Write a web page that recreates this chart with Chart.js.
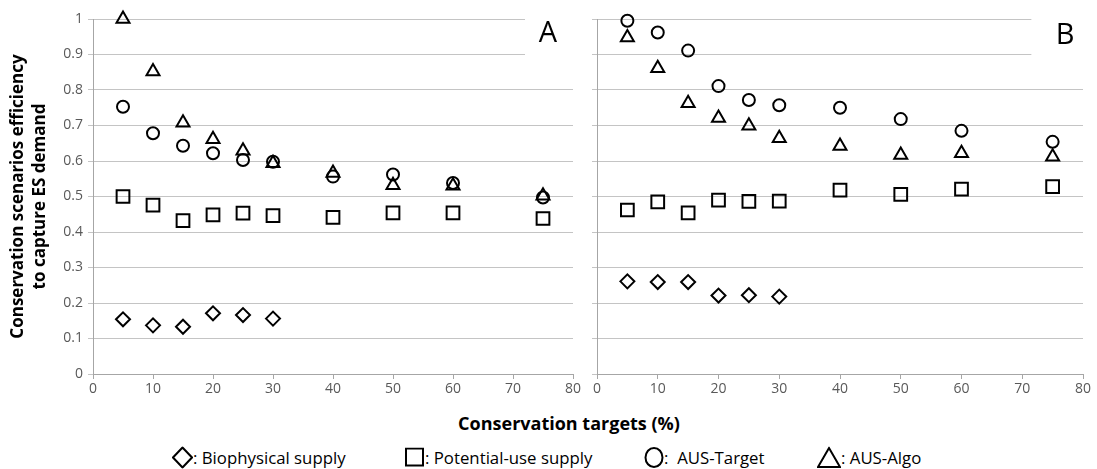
<!DOCTYPE html>
<html lang="en">
<head>
  <meta charset="UTF-8">
  <title>Conservation scenarios efficiency</title>
  <script src="https://cdn.jsdelivr.net/npm/chart.js"></script>
  <style>
    body {
      margin: 0;
      background: #fff;
      font-family: "Open Sans", Lato, sans-serif;
    }
    .wrap {
      position: relative;
      width: 1097px;
      height: 469px;
      overflow: hidden;
    }
    canvas {
      position: absolute;
      top: 0;
    }
    #chartA { left: 0; }
    #chartB { left: 560px; }
    .xtitle {
      position: absolute;
      left: 569px;
      top: 423px;
      transform: translate(-50%, -50%);
      font-weight: bold;
      font-size: 18px;
      white-space: nowrap;
    }
    .leg {
      position: absolute;
      top: 457px;
      transform: translateY(-50%);
      font-size: 16.8px;
      white-space: nowrap;
      display: flex;
      align-items: center;
    }
    .leg svg { display: block; }
  </style>
</head>
<body>
  <div class="wrap">
    <canvas id="chartA" width="590" height="400"></canvas>
    <canvas id="chartB" width="537" height="400"></canvas>
    <div class="xtitle">Conservation targets (%)</div>
    <div class="leg" style="left:172px">
      <svg width="21" height="22"><path d="M10.5 1 L20 11 L10.5 21 L1 11 Z" fill="none" stroke="#000" stroke-width="2"/></svg>
      <span>: Biophysical supply</span>
    </div>
    <div class="leg" style="left:405px">
      <svg width="20" height="20"><rect x="1" y="1" width="17" height="17" fill="none" stroke="#000" stroke-width="2"/></svg>
      <span>: Potential-use supply</span>
    </div>
    <div class="leg" style="left:644px">
      <svg width="20" height="22"><ellipse cx="10" cy="11" rx="8.5" ry="9.5" fill="none" stroke="#000" stroke-width="2"/></svg>
      <span>:&nbsp; AUS-Target</span>
    </div>
    <div class="leg" style="left:817px">
      <svg width="24" height="22"><path d="M12 1.5 L23 20.5 L1 20.5 Z" fill="none" stroke="#000" stroke-width="2"/></svg>
      <span>: AUS-Algo</span>
    </div>
  </div>

  <script>
    // conservation targets (%)
    const targets = [5, 10, 15, 20, 25, 30, 40, 50, 60, 75];
    const xTicks = [0, 10, 20, 30, 40, 50, 60, 70, 80];

    // panel A
    const biophysA = [0.154, 0.137, 0.133, 0.171, 0.166, 0.156];
    const potentialA = [0.50, 0.476, 0.432, 0.448, 0.453, 0.446, 0.441, 0.454, 0.454, 0.438];
    const ausTargetA = [0.753, 0.678, 0.643, 0.622, 0.603, 0.598, 0.556, 0.562, 0.538, 0.497];
    const ausAlgoA = [1.0, 0.852, 0.708, 0.661, 0.629, 0.594, 0.566, 0.532, 0.530, 0.502];

    // panel B
    const biophysB = [0.261, 0.259, 0.259, 0.221, 0.222, 0.218];
    const potentialB = [0.462, 0.485, 0.454, 0.490, 0.486, 0.487, 0.518, 0.506, 0.521, 0.528];
    const ausTargetB = [0.995, 0.962, 0.911, 0.811, 0.772, 0.757, 0.750, 0.718, 0.685, 0.654];
    const ausAlgoB = [0.948, 0.861, 0.763, 0.721, 0.699, 0.664, 0.642, 0.617, 0.622, 0.612];

    const seriesNames = ['Biophysical supply', 'Potential-use supply', 'AUS-Target', 'AUS-Algo'];

    function pts(vals) {
      return vals.map((v, i) => ({ x: targets[i], y: v }));
    }

    function makeSets(bio, pot, tgt, algo) {
      const common = {
        backgroundColor: 'rgba(0,0,0,0)',
        borderColor: '#000',
        borderWidth: 2,
        pointBorderWidth: 2,
        clip: false
      };
      return [
        Object.assign({ label: seriesNames[0], data: pts(bio), pointStyle: 'rectRot', pointRadius: 7 }, common),
        Object.assign({ label: seriesNames[1], data: pts(pot), pointStyle: 'rect', pointRadius: 9 }, common),
        Object.assign({ label: seriesNames[2], data: pts(tgt), pointStyle: 'circle', pointRadius: 6 }, common),
        Object.assign({ label: seriesNames[3], data: pts(algo), pointStyle: 'triangle', pointRadius: 7.5 }, common)
      ];
    }

    // white box + panel letter in the top right corner
    const panelLetter = {
      id: 'panelLetter',
      beforeDatasetsDraw(chart, args, opts) {
        const { ctx, chartArea, scales } = chart;
        const x0 = scales.x.getPixelForValue(opts.boxFrom);
        const y1 = scales.y.getPixelForValue(0.85);
        ctx.save();
        ctx.fillStyle = '#fff';
        ctx.fillRect(x0, chartArea.top - 5, chartArea.right - x0 + 2, y1 - chartArea.top + 5);
        ctx.fillStyle = '#000';
        ctx.font = '29px "Open Sans", sans-serif';
        ctx.textAlign = 'center';
        ctx.textBaseline = 'middle';
        ctx.fillText(opts.text, chartArea.right - opts.dx, chartArea.top + opts.dy);
        ctx.restore();
      }
    };

    function makeOptions(showYLabels, yWidth, padRight, letter) {
      return {
        responsive: false,
        animation: false,
        events: [],
        layout: { padding: { top: 19, right: padRight, bottom: 0, left: 0 } },
        plugins: {
          legend: { display: false },
          tooltip: { enabled: false },
          panelLetter: letter
        },
        scales: {
          x: {
            type: 'linear',
            min: 0,
            max: 80,
            afterBuildTicks: (s) => { s.ticks = xTicks.map(v => ({ value: v })); },
            afterFit: (s) => { s.height = 26; },
            grid: { drawOnChartArea: false, tickLength: 5, color: '#a6a6a6' },
            border: { color: '#a6a6a6' },
            ticks: { color: '#595959', font: { family: 'Open Sans', size: 14 }, padding: 2, maxRotation: 0 }
          },
          y: {
            min: 0,
            max: 1,
            afterFit: (s) => { s.width = yWidth; },
            grid: { color: '#c4c4c4', tickLength: 5 },
            border: { color: '#a6a6a6' },
            ticks: {
              display: showYLabels,
              stepSize: 0.1,
              color: '#595959',
              font: { family: 'Open Sans', size: 14 },
              padding: 5,
              callback: (v) => String(parseFloat(v.toFixed(1)))
            },
            title: {
              display: showYLabels,
              text: ['Conservation scenarios efficiency', 'to capture ES demand'],
              color: '#000',
              font: { family: 'Open Sans', size: 17, weight: 'bold', lineHeight: 1.3 },
              padding: { top: 7, bottom: 0 }
            }
          }
        }
      };
    }

    new Chart(document.getElementById('chartA'), {
      type: 'scatter',
      data: { datasets: makeSets(biophysA, potentialA, ausTargetA, ausAlgoA) },
      options: makeOptions(true, 93, 17, { text: 'A', boxFrom: 72, dx: 25, dy: 15 }),
      plugins: [panelLetter]
    });

    new Chart(document.getElementById('chartB'), {
      type: 'scatter',
      data: { datasets: makeSets(biophysB, potentialB, ausTargetB, ausAlgoB) },
      options: makeOptions(false, 37, 14, { text: 'B', boxFrom: 71.5, dx: 18, dy: 17 }),
      plugins: [panelLetter]
    });
  </script>
</body>
</html>
